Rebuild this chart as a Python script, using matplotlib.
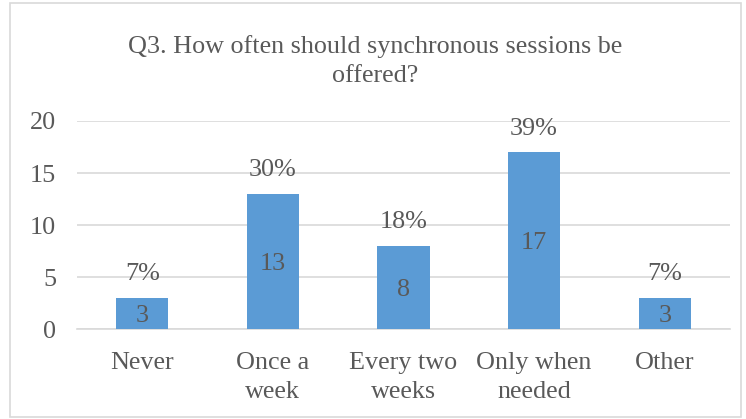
import matplotlib
matplotlib.use("Agg")
import matplotlib.pyplot as plt
from matplotlib.patches import Rectangle

categories = ["Never", "Once a\nweek", "Every two\nweeks", "Only when\nneeded", "Other"]
counts = [3, 13, 8, 17, 3]
percent_labels = ["7%", "30%", "18%", "39%", "7%"]
yticks = [0, 5, 10, 15, 20]
title = "Q3. How often should synchronous sessions be\noffered?"

plt.rcParams['font.family'] = ['Liberation Serif', 'DejaVu Serif']
text_color = "#595959"
fs = 18.8

fig = plt.figure(figsize=(7.46, 4.19), dpi=100)
ax = fig.add_axes([77/746, 1 - 329/419, (730-77)/746, (329-121)/419])

x = list(range(len(categories)))
bars = ax.bar(x, counts, width=0.4, color="#5B9BD5", zorder=3)
ax.set_xlim(-0.5, len(categories) - 0.5)
ax.set_ylim(0, 20)
ax.set_yticks(yticks)
ax.set_yticklabels([str(t) for t in yticks], fontsize=fs, color=text_color)
ax.set_xticks(x)
ax.set_xticklabels(categories, fontsize=fs, color=text_color, linespacing=1.4)
ax.tick_params(axis='both', length=0)
ax.tick_params(axis='x', pad=16.5)
ax.tick_params(axis='y', pad=15)
ax.yaxis.grid(True, color="#D9D9D9", linewidth=1.2, zorder=0)
for s in ["top", "right", "left"]:
    ax.spines[s].set_visible(False)
ax.spines["bottom"].set_color("#D9D9D9")
ax.spines["bottom"].set_linewidth(1.2)

for xi, c, p in zip(x, counts, percent_labels):
    ax.annotate(str(c), (xi, c / 2), xytext=(0, -2), textcoords='offset points',
                ha='center', va='center', fontsize=fs, color=text_color, zorder=4)
    ax.annotate(p, (xi, c), xytext=(0, 9), textcoords='offset points',
                ha='center', va='bottom', fontsize=fs, color=text_color)

fig.text(0.5 * (10 + 741) / 746, 1 - 61/419, title, ha='center', va='center',
         fontsize=18.8, color=text_color, linespacing=1.38)

fig.patches.append(Rectangle((10/746, 2/419), (741-10)/746, (416-2)/419,
                             transform=fig.transFigure, fill=False,
                             edgecolor="#D9D9D9", linewidth=1.2))

fig.savefig("out.png", dpi=100)
